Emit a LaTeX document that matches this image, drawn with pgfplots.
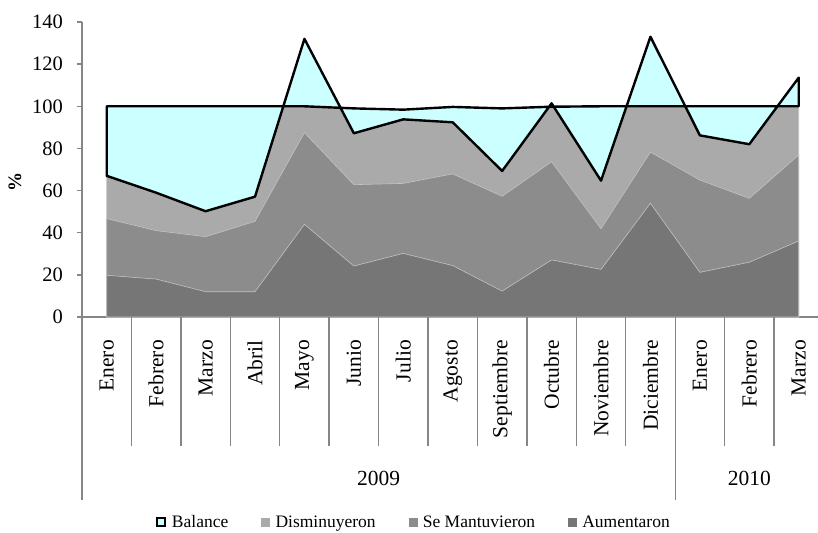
\documentclass[border=0pt]{standalone}
\usepackage{pgfplots}
\pgfplotsset{compat=1.18}
\usepackage{pgfplotstable}
\usepackage{fontspec}
\setmainfont{Liberation Serif}
\definecolor{cyanf}{HTML}{CCFFFF}
\definecolor{lg}{HTML}{AAAAAA}
\definecolor{mg}{HTML}{8C8C8C}
\definecolor{dg}{HTML}{767676}
\definecolor{axg}{HTML}{868686}
\definecolor{sep}{HTML}{C4C4C4}

% x: 0 = Enero 2009 ... 14 = Marzo 2010 ; cumulative tops
\pgfplotstableread{
x tot man aum
0 100 46.7 19.8
1 100 41.0 18.0
2 100 38.1 12.0
3 100 45.4 12.0
4 100 87.5 44.0
5 99.0 62.8 24.2
6 98.4 63.4 30.2
7 99.7 67.9 24.4
8 99.0 57.3 12.3
9 99.8 73.7 27.1
10 100 41.9 22.6
11 100 78.3 54.0
12 100 65.0 21.2
13 100 56.3 26.0
14 100 76.9 36.1
}\datatable

\begin{document}
\begin{tikzpicture}
\useasboundingbox (-82bp,-216bp) rectangle (736bp,317bp);
\begin{axis}[
  at={(0,0)}, anchor=south west,
  scale only axis, width=736bp, height=295bp,
  xmin=-0.5, xmax=14.39, ymin=0, ymax=140,
  clip=false,
  axis x line*=bottom, axis y line*=left,
  axis line style={axg, line width=1.3bp},
  ytick={0,20,...,140},
  xtick={0,...,14},
  xticklabels={Enero,Febrero,Marzo,Abril,Mayo,Junio,Julio,Agosto,Septiembre,Octubre,Noviembre,Diciembre,Enero,Febrero,Marzo},
  xtick style={draw=none},
  ytick style={axg, line width=1.3bp},
  tick align=outside,
  major tick length=5bp,
  /pgf/number format/assume math mode=true,
  tick label style={font=\fontsize{20.5bp}{24bp}\selectfont},
  yticklabel style={anchor=east, inner sep=0pt, xshift=-14bp},
  xticklabel style={rotate=90, anchor=east, inner sep=0pt, font=\fontsize{21.5bp}{25bp}\selectfont},
  xticklabel shift=18bp,
  ylabel={\%},
  ylabel style={at={(axis description cs:-0.091,0.458)}, anchor=center, font=\fontsize{19bp}{22bp}\selectfont\bfseries},
  legend columns=4,
  legend cell align=left,
  legend style={at={(axis description cs:0.451,0)}, yshift=-205bp, anchor=center, draw=none, fill=none,
    font=\fontsize{17.5bp}{20bp}\selectfont,
    /tikz/every even column/.append style={column sep=31bp}},
]
\addlegendimage{legend image code/.code={\path[draw=none, fill=none] (0bp,0bp) -- (13bp,0bp); \draw[black, line width=1.8bp, fill=cyanf] (0bp,-4bp) rectangle (8bp,4bp);}}
\addlegendentry{Balance}
\addlegendimage{legend image code/.code={\path[draw=none, fill=none] (0bp,0bp) -- (12bp,0bp); \fill[lg] (0bp,-4bp) rectangle (8bp,4bp);}}
\addlegendentry{Disminuyeron}
\addlegendimage{legend image code/.code={\path[draw=none, fill=none] (0bp,0bp) -- (12bp,0bp); \fill[mg] (0bp,-4bp) rectangle (8bp,4bp);}}
\addlegendentry{Se Mantuvieron}
\addlegendimage{legend image code/.code={\path[draw=none, fill=none] (0bp,0bp) -- (12bp,0bp); \fill[dg] (0bp,-4bp) rectangle (8bp,4bp);}}
\addlegendentry{Aumentaron}

\addplot[forget plot, fill=lg, draw=sep, line width=0.6bp] table[x=x, y=tot] {\datatable} \closedcycle;
\addplot[forget plot, fill=mg, draw=sep, line width=0.6bp] table[x=x, y=man] {\datatable} \closedcycle;
\addplot[forget plot, fill=dg, draw=sep, line width=0.6bp] table[x=x, y=aum] {\datatable} \closedcycle;

% Balance: area between the balance line and the top of the stack
\addplot[forget plot, fill=cyanf, draw=black, line width=2.4bp, line join=round] coordinates {
  (0,100) (0,67.0) (1,59.0) (2,50.2) (3,57.1) (4,132.0) (5,87.2) (6,93.8) (7,92.4)
  (8,69.3) (9,101.4) (10,64.7) (11,133.0) (12,86.2) (13,82.0) (14,113.6)
  (14,100) (13,100) (12,100) (11,100) (10,100) (9,99.8) (8,99.0) (7,99.7) (6,98.4)
  (5,99.0) (4,100) (3,100) (2,100) (1,100) (0,100)
} -- cycle;

% category separators
\pgfplotsinvokeforeach{0.5,1.5,2.5,3.5,4.5,5.5,6.5,7.5,8.5,9.5,10.5,12.5,13.5}{
  \draw[axg, line width=1.3bp] (axis cs:#1,0) -- ++(0bp,-129bp);
}
\draw[axg, line width=1.3bp] (axis cs:11.5,0) -- ++(0bp,-183bp);
\draw[axg, line width=1.3bp] (axis cs:-0.5,0) -- ++(0bp,-183bp);
\node[font=\fontsize{21.5bp}{25bp}\selectfont] at (axis cs:5.5,0) [yshift=-161bp] {2009};
\node[font=\fontsize{21.5bp}{25bp}\selectfont] at (axis cs:13,0) [yshift=-161bp] {2010};
\end{axis}
\end{tikzpicture}
\end{document}
